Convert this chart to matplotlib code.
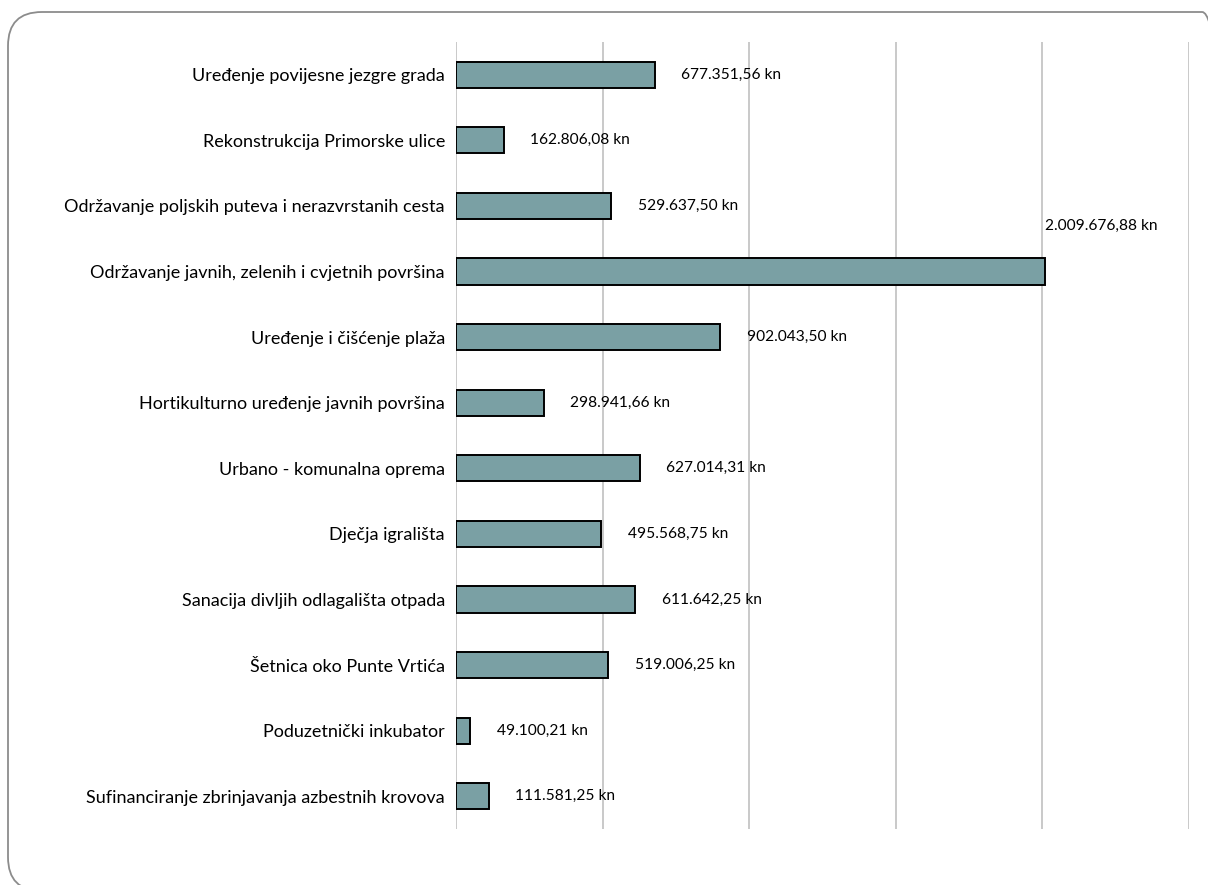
import matplotlib
matplotlib.use("Agg")
import matplotlib.pyplot as plt
from matplotlib.patches import FancyBboxPatch

# -----------------------------------------------------------------------------
# Data
# -----------------------------------------------------------------------------

categories = [
    "Uređenje povijesne jezgre grada",
    "Rekonstrukcija Primorske ulice",
    "Održavanje poljskih puteva i nerazvrstanih cesta",
    "Održavanje javnih, zelenih i cvjetnih površina",
    "Uređenje i čišćenje plaža",
    "Hortikulturno uređenje javnih površina",
    "Urbano - komunalna oprema",
    "Dječja igrališta",
    "Sanacija divljih odlagališta otpada",
    "Šetnica oko Punte Vrtića",
    "Poduzetnički inkubator",
    "Sufinanciranje zbrinjavanja azbestnih krovova",
]
values = [
    677351.56, 162806.08, 529637.50, 2009676.88, 902043.50, 298941.66,
    627014.31, 495568.75, 611642.25, 519006.25, 49100.21, 111581.25,
]
value_labels = [
    "677.351,56 kn", "162.806,08 kn", "529.637,50 kn", "2.009.676,88 kn",
    "902.043,50 kn", "298.941,66 kn", "627.014,31 kn", "495.568,75 kn",
    "611.642,25 kn", "519.006,25 kn", "49.100,21 kn", "111.581,25 kn",
]
grid_ticks = [0, 500000, 1000000, 1500000, 2000000, 2500000]

BAR_COLOR = "#7aa0a4"

# -----------------------------------------------------------------------------
# Chart
# -----------------------------------------------------------------------------

plt.rcParams["font.family"] = ["Lato", "DejaVu Sans"]

W, H = 1208, 885
fig = plt.figure(figsize=(W / 100, H / 100), dpi=100)

# rounded frame around the whole chart
frame = FancyBboxPatch((8 / W, -6 / H), (W + 20) / W, (H - 12 + 6) / H,
                       boxstyle="round,pad=0,rounding_size=0.028",
                       transform=fig.transFigure, fill=False,
                       edgecolor="#8c8c8c", linewidth=1.3,
                       mutation_aspect=W / H)
fig.patches.append(frame)

ax = fig.add_axes([456 / W, 1 - 829 / H, (1189 - 456) / W, (829 - 42) / H])

y = list(range(len(categories)))
ax.barh(y, values, height=0.4, color=BAR_COLOR, edgecolor="black",
        linewidth=1.4, zorder=3)

ax.set_xlim(0, 2500000)
ax.set_ylim(len(categories) - 0.5, -0.5)
ax.set_xticks(grid_ticks)
ax.set_xticklabels([])
ax.tick_params(axis="x", length=0)
ax.tick_params(axis="y", length=0, pad=8, labelsize=13)
ax.set_yticks(y)
ax.set_yticklabels(categories)
ax.grid(axis="x", color="#c0c0c0", linewidth=1.2, zorder=0)
for s in ax.spines.values():
    s.set_visible(False)

vmax = max(values)
for yi, v, lab in zip(y, values, value_labels):
    if v == vmax:
        ax.text(v, yi - 0.7, lab, va="center", ha="left", fontsize=11.2)
    else:
        ax.text(v + 90000, yi, lab, va="center", ha="left", fontsize=11.2)

fig.savefig("out.png", dpi=100)
